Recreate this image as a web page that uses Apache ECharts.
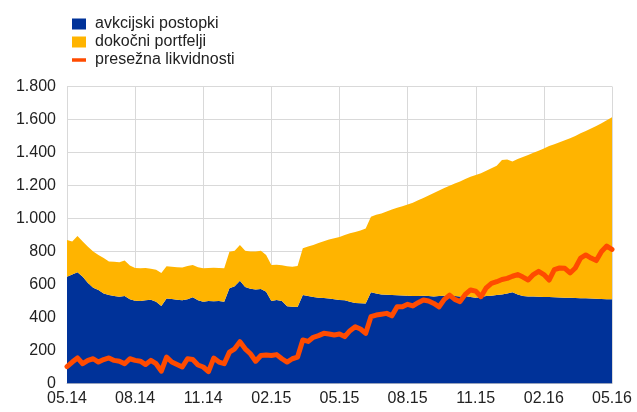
<!DOCTYPE html>
<html>
<head>
<meta charset="utf-8">
<script src="https://cdn.jsdelivr.net/npm/echarts@6/dist/echarts.min.js"></script>
<style>
html,body{margin:0;padding:0;background:#fff;}
#chart{width:637px;height:412px;}
</style>
</head>
<body>
<div id="chart"></div>
<script>
// Tick labels (one every 13 weeks)
const tickLabels = ["05.14","08.14","11.14","02.15","05.15","08.15","11.15","02.16","05.16"];
const seriesNames = ["avkcijski postopki","dokočni portfelji","presežna likvidnosti"];

// Weekly observations, May 2014 - May 2016 (EUR bn)
const auction = [647,660,674,647,609,580,566,545,536,530,526,530,510,502,500,505,508,495,470,515,
512,508,505,510,522,505,496,500,498,500,496,577,590,623,585,575,570,572,556,500,
506,500,468,465,463,536,530,525,520,518,515,510,506,505,495,488,486,485,553,545,
540,538,536,535,533,532,530,530,532,530,528,530,532,534,530,528,530,525,520,525,
530,532,536,540,545,553,540,530,528,527,526,525,524,522,521,520,519,518,517,516,
515,514,512,511,510];

const portfolio = [223,200,220,213,220,220,213,215,204,208,209,215,205,198,198,195,187,195,200,195,
196,197,198,202,196,200,202,200,204,200,202,222,215,216,220,225,230,233,223,218,
214,216,242,243,249,283,300,315,332,344,357,370,382,395,415,430,442,455,458,477,
491,504,519,530,542,553,566,580,593,610,627,640,653,664,682,697,710,728,743,750,
760,773,784,814,813,792,820,842,857,871,884,900,915,928,941,955,968,982,999,1014,
1030,1046,1065,1084,1103];

const excess = [102,130,155,120,140,150,130,145,155,140,135,120,150,140,135,115,140,120,75,160,
130,115,100,150,145,112,100,72,154,130,120,190,210,253,210,180,135,170,173,170,
175,150,130,150,160,264,255,280,290,304,300,294,300,284,320,344,330,304,405,415,
420,425,410,465,465,480,470,490,506,500,485,465,510,536,510,496,540,567,560,526,
580,607,617,630,637,650,660,645,627,660,680,660,627,690,700,698,670,700,760,779,
760,745,800,833,813];

// weekly category keys
const categories = auction.map((_, i) => "w" + i);

const textColor = "#222";
const font = "'Liberation Sans', Arial, sans-serif";

const chart = echarts.init(document.getElementById('chart'), null, {renderer: 'canvas'});
chart.setOption({
  animation: false,
  backgroundColor: '#fff',
  textStyle: {fontFamily: font},
  legend: {
    orient: 'vertical',
    left: 67,
    top: 11,
    itemWidth: 14,
    itemHeight: 11,
    itemGap: 2,
    textStyle: {fontSize: 16, color: textColor, fontFamily: font, lineHeight: 16, padding: [0,0,0,4]},
    data: [
      {name: seriesNames[0], icon: 'rect'},
      {name: seriesNames[1], icon: 'rect'},
      {name: seriesNames[2], icon: 'path://M0,0 L14,0 L14,3.5 L0,3.5 Z', itemStyle: {color: '#FF4B00'}}
    ]
  },
  grid: {left: 67, right: 25, top: 86.5, bottom: 28.5, containLabel: false},
  xAxis: {
    type: 'category',
    data: categories,
    boundaryGap: false,
    axisLine: {show: true, lineStyle: {color: '#c8c8c8', width: 1}},
    axisTick: {show: false},
    axisLabel: {
      interval: 12,
      margin: 7,
      fontSize: 16,
      color: textColor,
      fontFamily: font,
      formatter: (v, idx) => tickLabels[Math.round(idx / 13)] || ''
    },
    splitLine: {show: true, interval: 12, lineStyle: {color: '#d9d9d9', width: 1}}
  },
  yAxis: {
    type: 'value',
    min: 0, max: 1800, interval: 200,
    axisLine: {show: false},
    axisTick: {show: false},
    axisLabel: {
      margin: 11,
      fontSize: 16,
      color: textColor,
      fontFamily: font,
      formatter: v => v >= 1000 ? Math.floor(v/1000) + '.' + String(v % 1000).padStart(3,'0') : String(v)
    },
    splitLine: {show: true, lineStyle: {color: '#d9d9d9', width: 1}}
  },
  series: [
    {
      name: seriesNames[0], type: 'line', stack: 'total', data: auction,
      symbol: 'none', lineStyle: {width: 0},
      itemStyle: {color: '#003299'}, areaStyle: {color: '#003299', opacity: 1}
    },
    {
      name: seriesNames[1], type: 'line', stack: 'total', data: portfolio,
      symbol: 'none', lineStyle: {width: 0},
      itemStyle: {color: '#FFB400'}, areaStyle: {color: '#FFB400', opacity: 1}
    },
    {
      name: seriesNames[2], type: 'line', data: excess, symbol: 'none',
      itemStyle: {color: '#FF4B00'},
      lineStyle: {color: '#FF4B00', width: 5, join: 'round', cap: 'round'}, z: 5
    }
  ]
});
</script>
</body>
</html>
